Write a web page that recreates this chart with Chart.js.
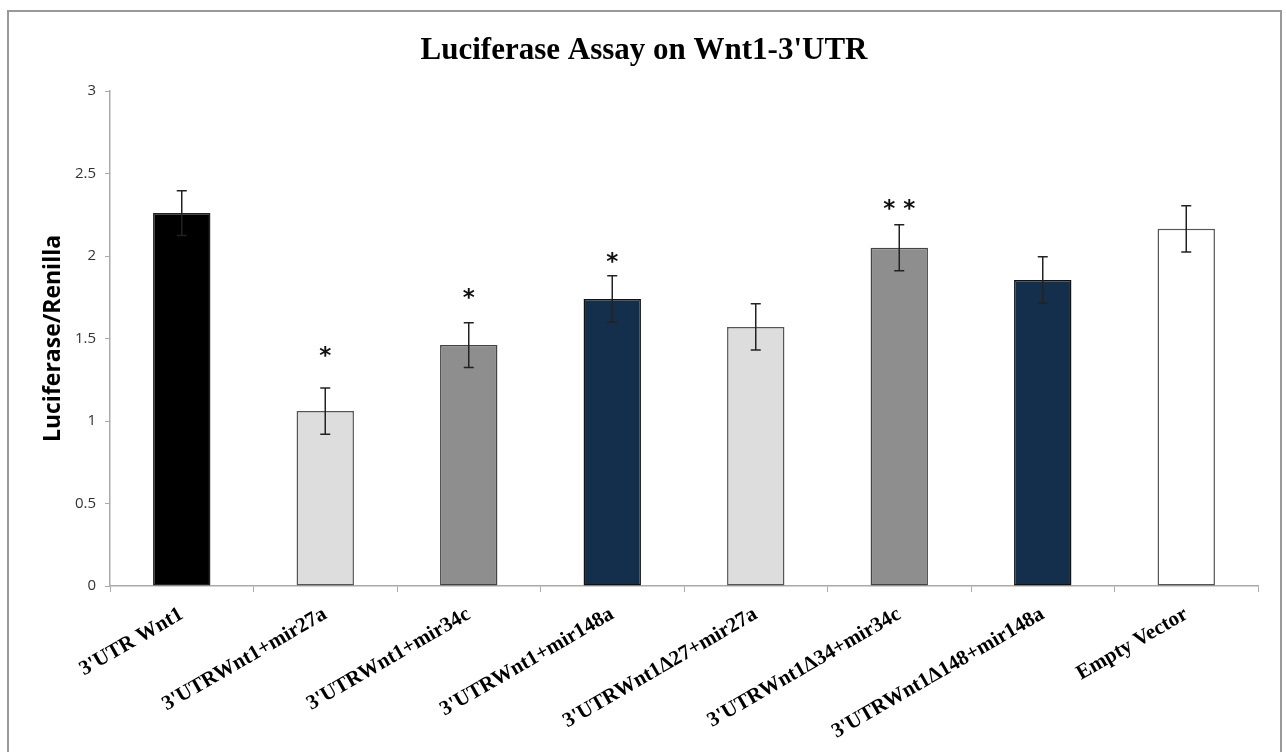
<!DOCTYPE html>
<html>
<head>
<meta charset="utf-8">
<script src="https://cdn.jsdelivr.net/npm/chart.js@4"></script>
<style>
  html, body { margin: 0; padding: 0; background: #fff; }
  #wrap { position: relative; width: 1286px; height: 752px; overflow: hidden; }
  #frame {
    position: absolute; left: 7px; top: 10px; width: 1271px; height: 760px;
    border: 2px solid #999; pointer-events: none;
  }
</style>
</head>
<body>
<div id="wrap">
  <canvas id="chart" width="1286" height="752"></canvas>
  <div id="frame"></div>
</div>
<script>
const categories = [
  "3'UTR Wnt1",
  "3'UTRWnt1+mir27a",
  "3'UTRWnt1+mir34c",
  "3'UTRWnt1+mir148a",
  "3'UTRWnt1\u039427+mir27a",
  "3'UTRWnt1\u039434+mir34c",
  "3'UTRWnt1\u0394148+mir148a",
  "Empty Vector"
]
const values = [2.26, 1.06, 1.46, 1.74, 1.57, 2.05, 1.855, 2.165]
const errors = [0.135, 0.14, 0.135, 0.14, 0.14, 0.14, 0.14, 0.14]
const stars = ["", "*", "*", "*", "", "**", "", ""]
const starLevels = [0, 1.42, 1.77, 1.99, 0, 2.31, 0, 0]

const fills = ["#000000", "#dddddd", "#8e8e8e", "#132f4c", "#dddddd", "#8e8e8e", "#132f4c", "#ffffff"]
const borders = ["#222222", "#555555", "#444444", "#111111", "#555555", "#444444", "#111111", "#555555"]

// error bars, asterisks and the titles drawn on top of the bars
const extras = {
  id: "extras",
  afterDatasetsDraw(chart) {
    const ctx = chart.ctx
    const x = chart.scales.x
    const y = chart.scales.y
    ctx.save()
    ctx.strokeStyle = "#222"
    ctx.lineWidth = 1.5
    values.forEach((v, i) => {
      const cx = x.getPixelForValue(i)
      const top = y.getPixelForValue(v + errors[i])
      const bot = y.getPixelForValue(v - errors[i])
      ctx.beginPath()
      ctx.moveTo(cx, top); ctx.lineTo(cx, bot)
      ctx.moveTo(cx - 5, top); ctx.lineTo(cx + 5, top)
      ctx.moveTo(cx - 5, bot); ctx.lineTo(cx + 5, bot)
      ctx.stroke()
      if (stars[i]) {
        ctx.fillStyle = "#111"
        ctx.font = "bold 23px 'DejaVu Sans'"
        ctx.textAlign = "center"
        ctx.textBaseline = "middle"
        const txt = stars[i].split("").join(" ")
        ctx.fillText(txt, cx, y.getPixelForValue(starLevels[i]) + 5)
      }
    })

    ctx.fillStyle = "#000"
    ctx.font = "bold 31px 'Liberation Serif'"
    ctx.textAlign = "center"
    ctx.textBaseline = "middle"
    ctx.fillText("Luciferase Assay on Wnt1-3'UTR", 644, 51)

    ctx.translate(53, (chart.chartArea.top + chart.chartArea.bottom) / 2)
    ctx.rotate(-Math.PI / 2)
    ctx.font = "bold 23px 'Open Sans'"
    ctx.fillText("Luciferase/Renilla", 0, 0)
    ctx.restore()
  }
}

new Chart(document.getElementById("chart").getContext("2d"), {
  type: "bar",
  data: {
    labels: categories,
    datasets: [
      {
        data: values,
        backgroundColor: fills,
        borderColor: borders,
        borderWidth: 1.5,
        borderSkipped: false,
        categoryPercentage: 1,
        barPercentage: 0.4
      }
    ]
  },
  options: {
    responsive: false,
    animation: false,
    layout: { padding: { top: 91, right: 28, left: 0, bottom: 0 } },
    plugins: {
      legend: { display: false },
      tooltip: { enabled: false }
    },
    scales: {
      x: {
        afterFit: (s) => { s.height = 166 },
        border: { color: "#aaaaaa", width: 1.5 },
        grid: { drawOnChartArea: false, color: "#aaaaaa", tickLength: 6, offset: true },
        ticks: {
          autoSkip: false,
          minRotation: 30,
          maxRotation: 30,
          padding: 10,
          color: "#000",
          font: { family: "'Liberation Serif'", weight: "bold", size: 21 }
        }
      },
      y: {
        min: 0,
        max: 3,
        afterFit: (s) => { s.width = 110 },
        border: { color: "#aaaaaa", width: 1.5 },
        grid: { drawOnChartArea: false, color: "#aaaaaa", tickLength: 5 },
        ticks: {
          stepSize: 0.5,
          padding: 9,
          color: "#333",
          font: { family: "'Open Sans'", size: 15 },
          callback: (v) => String(v)
        }
      }
    }
  },
  plugins: [extras]
})
</script>
</body>
</html>
